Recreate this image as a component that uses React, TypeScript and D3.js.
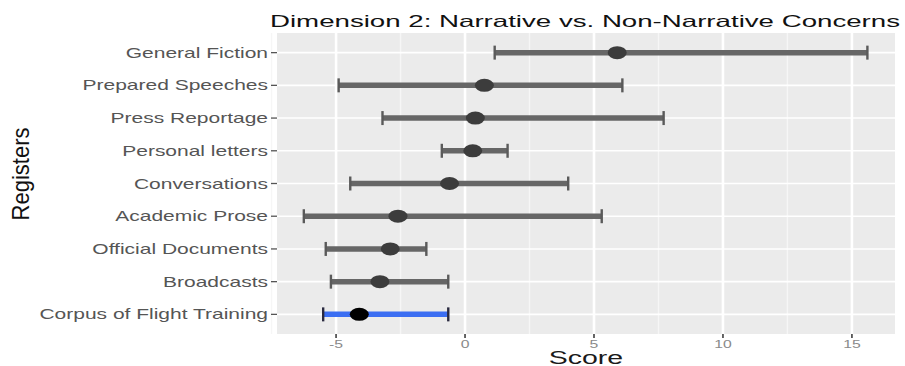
import React from 'react';
import * as d3 from 'd3';

// registers, top to bottom
const registers = [
  'General Fiction',
  'Prepared Speeches',
  'Press Reportage',
  'Personal letters ',
  'Conversations',
  'Academic Prose',
  'Official Documents',
  'Broadcasts',
  'Corpus of Flight Training',
];
const means = [5.9, 0.75, 0.4, 0.3, -0.6, -2.6, -2.9, -3.3, -4.1];
const lows = [1.15, -4.9, -3.2, -0.9, -4.45, -6.25, -5.4, -5.2, -5.5];
const highs = [15.6, 6.1, 7.7, 1.65, 4.0, 5.3, -1.5, -0.65, -0.65];
const xTicks = [-5, 0, 5, 10, 15];
const xMinor = [-7.5, -2.5, 2.5, 7.5, 12.5];

const W = 905;
const H = 366;
const panel = { left: 277, right: 895, top: 33, bottom: 334 };
const SX = 1.5; // the picture is stretched sideways

const App = () => {
  const x = d3.scaleLinear().domain([-7.29, 16.67]).range([panel.left, panel.right]);
  const y = d3.scalePoint<string>()
    .domain(registers)
    .range([panel.top, panel.bottom])
    .padding(0.6);

  const font = 'Liberation Sans, Arial, sans-serif';

  return (
    <svg width={W} height={H} style={{ position: 'absolute', left: 0, top: 0 }}>
      <rect width={W} height={H} fill="#fff" />
      <rect
        x={panel.left}
        y={panel.top}
        width={panel.right - panel.left}
        height={panel.bottom - panel.top}
        fill="#ebebeb"
      />
      {xMinor.map(t => (
        <line key={'m' + t} x1={x(t)} x2={x(t)} y1={panel.top} y2={panel.bottom}
          stroke="#f6f6f6" strokeWidth={1.4} />
      ))}
      {xTicks.map(t => (
        <line key={'g' + t} x1={x(t)} x2={x(t)} y1={panel.top} y2={panel.bottom}
          stroke="#fff" strokeWidth={2.6} />
      ))}
      {registers.map(r => (
        <line key={'h' + r} x1={panel.left} x2={panel.right} y1={y(r)} y2={y(r)}
          stroke="#fff" strokeWidth={1.6} />
      ))}

      {registers.map((r, i) => {
        const cy = y(r)!;
        const last = i === registers.length - 1;
        const barColor = last ? '#3b6ef2' : '#666';
        return (
          <g key={r}>
            <line x1={x(lows[i])} x2={x(highs[i])} y1={cy} y2={cy}
              stroke={barColor} strokeWidth={5.5} />
            {[lows[i], highs[i]].map((v, j) => (
              <line key={j} x1={x(v)} x2={x(v)} y1={cy - 7} y2={cy + 7}
                stroke={last ? '#2a2a40' : '#5a5a5a'} strokeWidth={2.4} />
            ))}
            <ellipse cx={x(means[i])} cy={cy} rx={9.5} ry={6.5}
              fill={last ? '#000' : '#3c3c3c'} />
          </g>
        );
      })}

      {/* y axis */}
      {registers.map(r => (
        <g key={'yl' + r}>
          <line x1={panel.left - 6} x2={panel.left} y1={y(r)} y2={y(r)} stroke="#555" strokeWidth={1.3} />
          <text
            transform={`translate(${panel.left - 9},${y(r)! + 5}) scale(${SX},1)`}
            textAnchor="end"
            fontFamily={font}
            fontSize={14}
            fill="#555"
          >
            {r}
          </text>
        </g>
      ))}

      {/* x axis */}
      {xTicks.map(t => (
        <g key={'xl' + t}>
          <line x1={x(t)} x2={x(t)} y1={panel.bottom} y2={panel.bottom + 4} stroke="#555" strokeWidth={1.8} />
          <text
            transform={`translate(${x(t)},${panel.bottom + 14}) scale(${SX},1)`}
            textAnchor="middle"
            fontFamily={font}
            fontSize={10.5}
            fill="#8a8a8a"
          >
            {t}
          </text>
        </g>
      ))}

      <text
        transform={`translate(${(panel.left + panel.right) / 2},364) scale(${SX},1)`}
        textAnchor="middle"
        fontFamily={font}
        fontSize={19}
        fill="#1a1a1a"
      >
        Score
      </text>

      <text
        transform={`translate(29,174) rotate(-90) scale(1.05,1.15)`}
        textAnchor="middle"
        fontFamily={font}
        fontSize={21}
        fill="#111"
      >
        Registers
      </text>

      <text
        x={270}
        y={27}
        textLength={630}
        lengthAdjust="spacingAndGlyphs"
        fontFamily={font}
        fontSize={16.5}
        fill="#111"
      >
        Dimension 2: Narrative vs. Non-Narrative Concerns
      </text>
    </svg>
  );
};

export default App;
